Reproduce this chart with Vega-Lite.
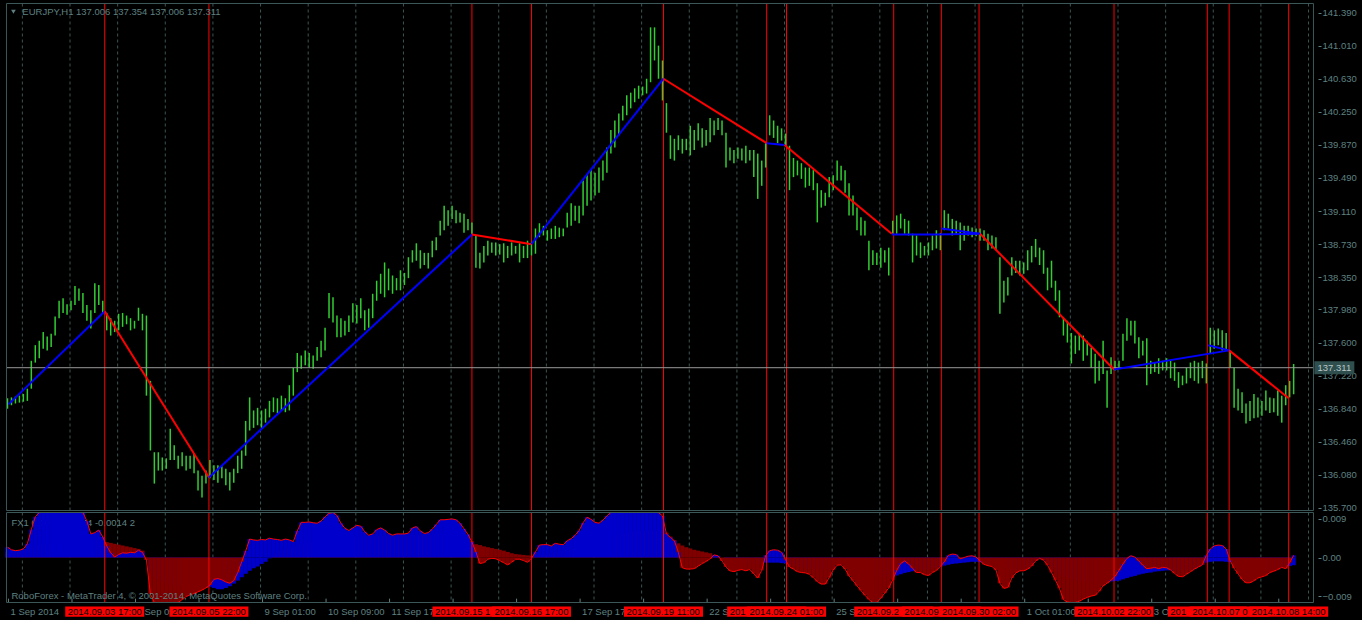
{
  "$schema": "https://vega.github.io/schema/vega-lite/v6.json",
  "background": "#000000",
  "autosize": {"type": "none"},
  "padding": {"left": 1, "top": 3, "right": 44, "bottom": 0},
  "width": 1317,
  "height": 617,
  "config": {
    "font": "Liberation Sans",
    "view": {"stroke": null},
    "axis": {"labelColor": "#5f8080", "tickColor": "#5f8080", "labelFontSize": 9.5, "labelFont": "Liberation Sans", "domain": false, "grid": false, "labelOverlap": false, "labelFlush": false}
  },
  "resolve": {"scale": {"y": "independent"}, "axis": {"y": "independent"}},
  "datasets": {
    "one": [{}],
    "bars": [
      {"t":0,"h":136.96,"l":136.84,"m":0.0024,"s":0.0012},{"t":2,"h":136.97,"l":136.88,"m":0.0018,"s":0.0012},{"t":4,"h":136.98,"l":136.90,"m":0.0016,"s":0.0012},{"t":6,"h":136.99,"l":136.91,"m":0.0017,"s":0.0013},
      {"t":8,"h":137.01,"l":136.92,"m":0.0020,"s":0.0015},{"t":10,"h":137.07,"l":136.93,"m":0.0032,"s":0.0020},{"t":12,"h":137.39,"l":137.07,"m":0.0065,"s":0.0025},{"t":14,"h":137.57,"l":137.37,"m":0.0095,"s":0.0028},
      {"t":16,"h":137.62,"l":137.42,"m":0.0112,"s":0.0029},{"t":18,"h":137.72,"l":137.53,"m":0.0120,"s":0.0030},{"t":20,"h":137.67,"l":137.51,"m":0.0125,"s":0.0032},{"t":22,"h":137.70,"l":137.55,"m":0.0125,"s":0.0033},
      {"t":24,"h":137.90,"l":137.68,"m":0.0125,"s":0.0035},{"t":26,"h":138.08,"l":137.88,"m":0.0125,"s":0.0036},{"t":28,"h":138.11,"l":137.94,"m":0.0125,"s":0.0037},{"t":30,"h":138.04,"l":137.92,"m":0.0125,"s":0.0038},
      {"t":32,"h":138.08,"l":137.97,"m":0.0125,"s":0.0039},{"t":34,"h":138.25,"l":138.03,"m":0.0125,"s":0.0040},{"t":36,"h":138.22,"l":138.08,"m":0.0125,"s":0.0041},{"t":38,"h":138.17,"l":137.94,"m":0.0115,"s":0.0042},
      {"t":40,"h":138.03,"l":137.85,"m":0.0085,"s":0.0043},{"t":42,"h":137.97,"l":137.76,"m":0.0055,"s":0.0044},{"t":44,"h":138.28,"l":137.94,"m":0.0058,"s":0.0043},{"t":46,"h":138.26,"l":138.03,"m":0.0064,"s":0.0042},
      {"t":48,"h":138.08,"l":137.94,"m":0.0048,"s":0.0040},{"t":50,"h":137.94,"l":137.74,"m":0.0027,"s":0.0036},{"t":52,"h":137.88,"l":137.68,"m":0.0011,"s":0.0034},{"t":54,"h":137.85,"l":137.72,"m":0.0001,"s":0.0032},
      {"t":56,"h":137.93,"l":137.74,"m":0.0007,"s":0.0030},{"t":58,"h":137.94,"l":137.78,"m":0.0011,"s":0.0028},{"t":60,"h":137.91,"l":137.81,"m":0.0010,"s":0.0026},{"t":62,"h":137.88,"l":137.74,"m":0.0012,"s":0.0024},
      {"t":64,"h":137.85,"l":137.76,"m":0.0011,"s":0.0022},{"t":66,"h":138.00,"l":137.85,"m":0.0017,"s":0.0020},{"t":68,"h":137.93,"l":137.74,"m":0.0012,"s":0.0016},{"t":70,"h":137.91,"l":136.99,"m":-0.0006,"s":0.0001},
      {"t":72,"h":137.16,"l":136.36,"m":-0.0085,"s":-0.0030},{"t":74,"h":136.34,"l":135.98,"m":-0.0108,"s":-0.0045},{"t":76,"h":136.34,"l":136.13,"m":-0.0110,"s":-0.0052},{"t":78,"h":136.28,"l":136.13,"m":-0.0110,"s":-0.0057},
      {"t":80,"h":136.27,"l":136.15,"m":-0.0110,"s":-0.0060},{"t":82,"h":136.61,"l":136.25,"m":-0.0110,"s":-0.0063},{"t":84,"h":136.42,"l":136.25,"m":-0.0110,"s":-0.0065},{"t":86,"h":136.30,"l":136.15,"m":-0.0110,"s":-0.0067},
      {"t":88,"h":136.34,"l":136.18,"m":-0.0098,"s":-0.0068},{"t":90,"h":136.30,"l":136.13,"m":-0.0091,"s":-0.0069},{"t":92,"h":136.30,"l":136.15,"m":-0.0087,"s":-0.0070},{"t":94,"h":136.32,"l":136.10,"m":-0.0084,"s":-0.0071},
      {"t":96,"h":136.13,"l":135.90,"m":-0.0080,"s":-0.0072},{"t":98,"h":136.07,"l":135.82,"m":-0.0076,"s":-0.0072},{"t":100,"h":136.13,"l":135.98,"m":-0.0071,"s":-0.0070},{"t":102,"h":136.25,"l":136.04,"m":-0.0064,"s":-0.0068},
      {"t":104,"h":136.19,"l":136.02,"m":-0.0051,"s":-0.0071},{"t":106,"h":136.19,"l":135.99,"m":-0.0049,"s":-0.0074},{"t":108,"h":136.18,"l":136.04,"m":-0.0052,"s":-0.0074},{"t":110,"h":136.15,"l":135.96,"m":-0.0057,"s":-0.0071},
      {"t":112,"h":136.11,"l":135.90,"m":-0.0060,"s":-0.0067},{"t":114,"h":136.15,"l":135.99,"m":-0.0054,"s":-0.0061},{"t":116,"h":136.30,"l":136.10,"m":-0.0035,"s":-0.0054},{"t":118,"h":136.36,"l":136.15,"m":-0.0010,"s":-0.0046},
      {"t":120,"h":136.70,"l":136.30,"m":0.0015,"s":-0.0038},{"t":122,"h":136.97,"l":136.59,"m":0.0043,"s":-0.0031},{"t":124,"h":136.82,"l":136.62,"m":0.0041,"s":-0.0025},{"t":126,"h":136.85,"l":136.65,"m":0.0040,"s":-0.0021},
      {"t":128,"h":136.82,"l":136.62,"m":0.0042,"s":-0.0015},{"t":130,"h":136.84,"l":136.68,"m":0.0041,"s":-0.0010},{"t":132,"h":136.93,"l":136.74,"m":0.0045,"s":-0.0002},{"t":134,"h":136.97,"l":136.80,"m":0.0043,"s":0.0005},
      {"t":136,"h":136.96,"l":136.79,"m":0.0042,"s":0.0010},{"t":138,"h":136.99,"l":136.82,"m":0.0040,"s":0.0015},{"t":140,"h":136.96,"l":136.80,"m":0.0043,"s":0.0019},{"t":142,"h":137.11,"l":136.82,"m":0.0041,"s":0.0022},
      {"t":144,"h":137.31,"l":136.99,"m":0.0037,"s":0.0025},{"t":146,"h":137.48,"l":137.26,"m":0.0062,"s":0.0028},{"t":148,"h":137.45,"l":137.30,"m":0.0082,"s":0.0030},{"t":150,"h":137.51,"l":137.34,"m":0.0082,"s":0.0032},
      {"t":152,"h":137.48,"l":137.31,"m":0.0083,"s":0.0034},{"t":154,"h":137.45,"l":137.30,"m":0.0081,"s":0.0036},{"t":156,"h":137.55,"l":137.39,"m":0.0080,"s":0.0038},{"t":158,"h":137.62,"l":137.43,"m":0.0085,"s":0.0040},
      {"t":160,"h":137.77,"l":137.51,"m":0.0095,"s":0.0042},{"t":162,"h":138.17,"l":137.88,"m":0.0103,"s":0.0043},{"t":164,"h":138.12,"l":137.83,"m":0.0106,"s":0.0044},{"t":166,"h":137.91,"l":137.66,"m":0.0098,"s":0.0045},
      {"t":168,"h":137.88,"l":137.66,"m":0.0080,"s":0.0046},{"t":170,"h":137.85,"l":137.68,"m":0.0068,"s":0.0047},{"t":172,"h":137.91,"l":137.72,"m":0.0063,"s":0.0047},{"t":174,"h":138.05,"l":137.83,"m":0.0069,"s":0.0048},
      {"t":176,"h":138.03,"l":137.82,"m":0.0075,"s":0.0048},{"t":178,"h":138.11,"l":137.88,"m":0.0073,"s":0.0049},{"t":180,"h":137.97,"l":137.74,"m":0.0060,"s":0.0049},{"t":182,"h":137.99,"l":137.77,"m":0.0052,"s":0.0049},
      {"t":184,"h":138.16,"l":137.88,"m":0.0055,"s":0.0050},{"t":186,"h":138.31,"l":138.08,"m":0.0065,"s":0.0050},{"t":188,"h":138.39,"l":138.16,"m":0.0069,"s":0.0050},{"t":190,"h":138.52,"l":138.12,"m":0.0064,"s":0.0050},
      {"t":192,"h":138.45,"l":138.20,"m":0.0056,"s":0.0050},{"t":194,"h":138.37,"l":138.16,"m":0.0052,"s":0.0050},{"t":196,"h":138.34,"l":138.20,"m":0.0055,"s":0.0051},{"t":198,"h":138.43,"l":138.20,"m":0.0055,"s":0.0051},
      {"t":200,"h":138.40,"l":138.26,"m":0.0055,"s":0.0051},{"t":202,"h":138.58,"l":138.34,"m":0.0057,"s":0.0052},{"t":204,"h":138.66,"l":138.52,"m":0.0069,"s":0.0052},{"t":206,"h":138.74,"l":138.54,"m":0.0072,"s":0.0053},
      {"t":208,"h":138.66,"l":138.45,"m":0.0062,"s":0.0053},{"t":210,"h":138.63,"l":138.49,"m":0.0056,"s":0.0053},{"t":212,"h":138.63,"l":138.45,"m":0.0058,"s":0.0054},{"t":214,"h":138.77,"l":138.58,"m":0.0066,"s":0.0054},
      {"t":216,"h":138.81,"l":138.66,"m":0.0077,"s":0.0055},{"t":218,"h":139.00,"l":138.83,"m":0.0088,"s":0.0055},{"t":220,"h":139.17,"l":138.89,"m":0.0088,"s":0.0056},{"t":222,"h":139.12,"l":138.94,"m":0.0089,"s":0.0056},
      {"t":224,"h":139.17,"l":139.02,"m":0.0090,"s":0.0056},{"t":226,"h":139.12,"l":138.97,"m":0.0088,"s":0.0055},{"t":228,"h":139.09,"l":138.98,"m":0.0080,"s":0.0053},{"t":230,"h":139.08,"l":138.86,"m":0.0067,"s":0.0050},
      {"t":232,"h":139.02,"l":138.89,"m":0.0054,"s":0.0045},{"t":234,"h":138.98,"l":138.85,"m":0.0036,"s":0.0038},{"t":236,"h":138.83,"l":138.46,"m":0.0013,"s":0.0031},{"t":238,"h":138.63,"l":138.45,"m":-0.0014,"s":0.0029},
      {"t":240,"h":138.71,"l":138.52,"m":-0.0012,"s":0.0026},{"t":242,"h":138.77,"l":138.60,"m":-0.0004,"s":0.0024},{"t":244,"h":138.75,"l":138.63,"m":-0.0002,"s":0.0022},{"t":246,"h":138.75,"l":138.60,"m":-0.0003,"s":0.0020},
      {"t":248,"h":138.73,"l":138.61,"m":-0.0007,"s":0.0018},{"t":250,"h":138.74,"l":138.52,"m":-0.0012,"s":0.0016},{"t":252,"h":138.71,"l":138.57,"m":-0.0017,"s":0.0013},{"t":254,"h":138.75,"l":138.60,"m":-0.0011,"s":0.0010},
      {"t":256,"h":138.71,"l":138.62,"m":-0.0004,"s":0.0008},{"t":258,"h":138.74,"l":138.52,"m":-0.0004,"s":0.0007},{"t":260,"h":138.71,"l":138.57,"m":-0.0007,"s":0.0006},{"t":262,"h":138.77,"l":138.57,"m":-0.0011,"s":0.0005},
      {"t":264,"h":138.75,"l":138.60,"m":-0.0002,"s":0.0004},{"t":266,"h":138.91,"l":138.62,"m":0.0013,"s":0.0004},{"t":268,"h":138.97,"l":138.81,"m":0.0029,"s":0.0005},{"t":270,"h":138.94,"l":138.83,"m":0.0030,"s":0.0006},
      {"t":272,"h":138.89,"l":138.77,"m":0.0030,"s":0.0008},{"t":274,"h":138.91,"l":138.79,"m":0.0027,"s":0.0010},{"t":276,"h":138.94,"l":138.79,"m":0.0033,"s":0.0012},{"t":278,"h":138.92,"l":138.81,"m":0.0031,"s":0.0014},
      {"t":280,"h":138.91,"l":138.82,"m":0.0030,"s":0.0016},{"t":282,"h":139.09,"l":138.92,"m":0.0039,"s":0.0018},{"t":284,"h":139.20,"l":138.94,"m":0.0044,"s":0.0020},{"t":286,"h":139.17,"l":139.00,"m":0.0052,"s":0.0022},
      {"t":288,"h":139.17,"l":138.97,"m":0.0063,"s":0.0025},{"t":290,"h":139.46,"l":139.06,"m":0.0081,"s":0.0028},{"t":292,"h":139.52,"l":139.17,"m":0.0094,"s":0.0031},{"t":294,"h":139.58,"l":139.23,"m":0.0089,"s":0.0034},
      {"t":296,"h":139.55,"l":139.29,"m":0.0082,"s":0.0037},{"t":298,"h":139.61,"l":139.32,"m":0.0080,"s":0.0040},{"t":300,"h":139.69,"l":139.46,"m":0.0087,"s":0.0043},{"t":302,"h":139.84,"l":139.55,"m":0.0097,"s":0.0046},
      {"t":304,"h":140.04,"l":139.77,"m":0.0110,"s":0.0049},{"t":306,"h":140.15,"l":139.84,"m":0.0125,"s":0.0052},{"t":308,"h":140.23,"l":139.98,"m":0.0125,"s":0.0054},{"t":310,"h":140.32,"l":140.15,"m":0.0125,"s":0.0056},
      {"t":312,"h":140.44,"l":140.21,"m":0.0125,"s":0.0058},{"t":314,"h":140.47,"l":140.29,"m":0.0125,"s":0.0060},{"t":316,"h":140.52,"l":140.36,"m":0.0125,"s":0.0061},{"t":318,"h":140.55,"l":140.40,"m":0.0125,"s":0.0062},
      {"t":320,"h":140.54,"l":140.44,"m":0.0125,"s":0.0062},{"t":322,"h":140.63,"l":140.46,"m":0.0125,"s":0.0063},{"t":324,"h":141.22,"l":140.59,"m":0.0125,"s":0.0063},{"t":326,"h":141.22,"l":140.84,"m":0.0125,"s":0.0063},
      {"t":328,"h":141.01,"l":140.63,"m":0.0125,"s":0.0063},{"t":330,"h":140.84,"l":140.38,"m":0.0097,"s":0.0062},{"t":332,"h":140.35,"l":140.01,"m":0.0055,"s":0.0058},{"t":334,"h":139.98,"l":139.71,"m":0.0047,"s":0.0049},
      {"t":336,"h":139.94,"l":139.69,"m":0.0039,"s":0.0041},{"t":338,"h":139.98,"l":139.81,"m":0.0012,"s":0.0033},{"t":340,"h":139.94,"l":139.77,"m":-0.0024,"s":0.0028},{"t":342,"h":139.94,"l":139.81,"m":-0.0027,"s":0.0024},
      {"t":344,"h":140.09,"l":139.75,"m":-0.0027,"s":0.0021},{"t":346,"h":140.04,"l":139.81,"m":-0.0026,"s":0.0018},{"t":348,"h":140.12,"l":139.92,"m":-0.0020,"s":0.0016},{"t":350,"h":140.06,"l":139.84,"m":-0.0014,"s":0.0014},
      {"t":352,"h":140.04,"l":139.86,"m":-0.0009,"s":0.0012},{"t":354,"h":140.18,"l":139.90,"m":-0.0003,"s":0.0010},{"t":356,"h":140.15,"l":139.98,"m":0.0006,"s":0.0006},{"t":358,"h":140.18,"l":140.04,"m":0.0004,"s":0.0003},
      {"t":360,"h":140.15,"l":139.98,"m":-0.0008,"s":0.0000},{"t":362,"h":140.01,"l":139.61,"m":-0.0022,"s":-0.0005},{"t":364,"h":139.84,"l":139.69,"m":-0.0031,"s":-0.0008},{"t":366,"h":139.81,"l":139.66,"m":-0.0033,"s":-0.0010},
      {"t":368,"h":139.84,"l":139.71,"m":-0.0030,"s":-0.0011},{"t":370,"h":139.83,"l":139.69,"m":-0.0028,"s":-0.0012},{"t":372,"h":139.86,"l":139.66,"m":-0.0031,"s":-0.0013},{"t":374,"h":139.81,"l":139.69,"m":-0.0028,"s":-0.0014},
      {"t":376,"h":139.81,"l":139.50,"m":-0.0038,"s":-0.0014},{"t":378,"h":139.77,"l":139.25,"m":-0.0048,"s":-0.0015},{"t":380,"h":139.69,"l":139.40,"m":-0.0030,"s":-0.0014},{"t":382,"h":139.89,"l":139.61,"m":0.0005,"s":-0.0012},
      {"t":384,"h":140.21,"l":139.98,"m":0.0016,"s":-0.0012},{"t":386,"h":140.15,"l":139.95,"m":0.0018,"s":-0.0012},{"t":388,"h":140.09,"l":139.89,"m":0.0017,"s":-0.0012},{"t":390,"h":140.06,"l":139.92,"m":0.0012,"s":-0.0013},
      {"t":392,"h":140.00,"l":139.86,"m":-0.0005,"s":-0.0014},{"t":394,"h":139.86,"l":139.35,"m":-0.0022,"s":-0.0016},{"t":396,"h":139.72,"l":139.50,"m":-0.0027,"s":-0.0018},{"t":398,"h":139.69,"l":139.52,"m":-0.0033,"s":-0.0020},
      {"t":400,"h":139.66,"l":139.48,"m":-0.0035,"s":-0.0022},{"t":402,"h":139.61,"l":139.38,"m":-0.0036,"s":-0.0024},{"t":404,"h":139.61,"l":139.40,"m":-0.0039,"s":-0.0026},{"t":406,"h":139.58,"l":139.35,"m":-0.0047,"s":-0.0027},
      {"t":408,"h":139.43,"l":138.98,"m":-0.0056,"s":-0.0028},{"t":410,"h":139.35,"l":139.15,"m":-0.0062,"s":-0.0029},{"t":412,"h":139.32,"l":139.17,"m":-0.0062,"s":-0.0029},{"t":414,"h":139.50,"l":139.27,"m":-0.0047,"s":-0.0028},
      {"t":416,"h":139.52,"l":139.35,"m":-0.0029,"s":-0.0026},{"t":418,"h":139.69,"l":139.46,"m":-0.0018,"s":-0.0017},{"t":420,"h":139.63,"l":139.46,"m":-0.0017,"s":-0.0016},{"t":422,"h":139.58,"l":139.32,"m":-0.0027,"s":-0.0020},
      {"t":424,"h":139.43,"l":139.06,"m":-0.0043,"s":-0.0025},{"t":426,"h":139.29,"l":139.06,"m":-0.0054,"s":-0.0030},{"t":428,"h":139.15,"l":138.89,"m":-0.0066,"s":-0.0034},{"t":430,"h":139.04,"l":138.83,"m":-0.0077,"s":-0.0037},
      {"t":432,"h":139.00,"l":138.83,"m":-0.0088,"s":-0.0040},{"t":434,"h":138.77,"l":138.43,"m":-0.0098,"s":-0.0042},{"t":436,"h":138.66,"l":138.49,"m":-0.0105,"s":-0.0044},{"t":438,"h":138.63,"l":138.49,"m":-0.0105,"s":-0.0045},
      {"t":440,"h":138.69,"l":138.46,"m":-0.0095,"s":-0.0046},{"t":442,"h":138.66,"l":138.52,"m":-0.0083,"s":-0.0046},{"t":444,"h":138.69,"l":138.37,"m":-0.0071,"s":-0.0046},{"t":446,"h":139.00,"l":138.85,"m":-0.0052,"s":-0.0045},
      {"t":448,"h":139.06,"l":138.85,"m":-0.0030,"s":-0.0042},{"t":450,"h":139.08,"l":138.91,"m":-0.0014,"s":-0.0039},{"t":452,"h":139.02,"l":138.85,"m":-0.0008,"s":-0.0036},{"t":454,"h":139.00,"l":138.83,"m":-0.0015,"s":-0.0034},
      {"t":456,"h":138.85,"l":138.52,"m":-0.0025,"s":-0.0032},{"t":458,"h":138.83,"l":138.60,"m":-0.0035,"s":-0.0030},{"t":460,"h":138.75,"l":138.57,"m":-0.0035,"s":-0.0029},{"t":462,"h":138.71,"l":138.60,"m":-0.0040,"s":-0.0028},
      {"t":464,"h":138.75,"l":138.60,"m":-0.0042,"s":-0.0027},{"t":466,"h":138.83,"l":138.66,"m":-0.0035,"s":-0.0025},{"t":468,"h":138.89,"l":138.68,"m":-0.0030,"s":-0.0023},{"t":470,"h":138.86,"l":138.66,"m":-0.0021,"s":-0.0021},
      {"t":472,"h":139.12,"l":138.89,"m":-0.0010,"s":-0.0019},{"t":474,"h":139.08,"l":138.91,"m":0.0005,"s":-0.0017},{"t":476,"h":139.02,"l":138.83,"m":0.0008,"s":-0.0015},{"t":478,"h":139.00,"l":138.85,"m":0.0007,"s":-0.0014},
      {"t":480,"h":138.98,"l":138.66,"m":-0.0003,"s":-0.0013},{"t":482,"h":138.94,"l":138.77,"m":0.0000,"s":-0.0012},{"t":484,"h":138.94,"l":138.83,"m":0.0003,"s":-0.0011},{"t":486,"h":138.92,"l":138.81,"m":0.0004,"s":-0.0010},
      {"t":488,"h":138.91,"l":138.82,"m":0.0001,"s":-0.0010},{"t":490,"h":138.91,"l":138.77,"m":-0.0008,"s":-0.0011},{"t":492,"h":138.89,"l":138.77,"m":-0.0016,"s":-0.0013},{"t":494,"h":138.85,"l":138.66,"m":-0.0019,"s":-0.0015},
      {"t":496,"h":138.83,"l":138.68,"m":-0.0021,"s":-0.0017},{"t":498,"h":138.81,"l":138.66,"m":-0.0029,"s":-0.0019},{"t":500,"h":138.58,"l":137.93,"m":-0.0060,"s":-0.0022},{"t":502,"h":138.31,"l":138.06,"m":-0.0072,"s":-0.0025},
      {"t":504,"h":138.35,"l":138.14,"m":-0.0070,"s":-0.0027},{"t":506,"h":138.58,"l":138.37,"m":-0.0048,"s":-0.0028},{"t":508,"h":138.54,"l":138.40,"m":-0.0036,"s":-0.0029},{"t":510,"h":138.54,"l":138.37,"m":-0.0031,"s":-0.0029},
      {"t":512,"h":138.52,"l":138.39,"m":-0.0031,"s":-0.0028},{"t":514,"h":138.66,"l":138.43,"m":-0.0027,"s":-0.0026},{"t":516,"h":138.71,"l":138.52,"m":-0.0020,"s":-0.0019},{"t":518,"h":138.79,"l":138.58,"m":-0.0008,"s":-0.0007},
      {"t":520,"h":138.69,"l":138.49,"m":-0.0002,"s":-0.0002},{"t":522,"h":138.66,"l":138.39,"m":-0.0006,"s":-0.0005},{"t":524,"h":138.46,"l":138.20,"m":-0.0018,"s":-0.0012},{"t":526,"h":138.54,"l":138.23,"m":-0.0035,"s":-0.0020},
      {"t":528,"h":138.31,"l":138.08,"m":-0.0053,"s":-0.0028},{"t":530,"h":138.20,"l":137.89,"m":-0.0072,"s":-0.0035},{"t":532,"h":137.89,"l":137.68,"m":-0.0098,"s":-0.0041},{"t":534,"h":137.85,"l":137.60,"m":-0.0104,"s":-0.0046},
      {"t":536,"h":137.71,"l":137.36,"m":-0.0106,"s":-0.0050},{"t":538,"h":137.68,"l":137.47,"m":-0.0105,"s":-0.0053},{"t":540,"h":137.70,"l":137.51,"m":-0.0102,"s":-0.0055},{"t":542,"h":137.68,"l":137.39,"m":-0.0097,"s":-0.0056},
      {"t":544,"h":137.62,"l":137.45,"m":-0.0093,"s":-0.0057},{"t":546,"h":137.54,"l":137.31,"m":-0.0090,"s":-0.0057},{"t":548,"h":137.47,"l":137.13,"m":-0.0088,"s":-0.0057},{"t":550,"h":137.39,"l":137.16,"m":-0.0079,"s":-0.0057},
      {"t":552,"h":137.62,"l":137.24,"m":-0.0066,"s":-0.0057},{"t":554,"h":137.28,"l":136.85,"m":-0.0060,"s":-0.0057},{"t":556,"h":137.43,"l":137.24,"m":-0.0053,"s":-0.0056},{"t":558,"h":137.39,"l":137.28,"m":-0.0044,"s":-0.0055},
      {"t":560,"h":137.39,"l":137.30,"m":-0.0030,"s":-0.0054},{"t":562,"h":137.70,"l":137.39,"m":-0.0015,"s":-0.0051},{"t":564,"h":137.88,"l":137.62,"m":-0.0002,"s":-0.0048},{"t":566,"h":137.85,"l":137.68,"m":0.0004,"s":-0.0045},
      {"t":568,"h":137.85,"l":137.59,"m":0.0001,"s":-0.0043},{"t":570,"h":137.66,"l":137.42,"m":-0.0008,"s":-0.0040},{"t":572,"h":137.62,"l":137.45,"m":-0.0018,"s":-0.0038},{"t":574,"h":137.65,"l":137.11,"m":-0.0026,"s":-0.0036},
      {"t":576,"h":137.39,"l":137.24,"m":-0.0025,"s":-0.0035},{"t":578,"h":137.37,"l":137.26,"m":-0.0023,"s":-0.0033},{"t":580,"h":137.42,"l":137.24,"m":-0.0026,"s":-0.0032},{"t":582,"h":137.39,"l":137.28,"m":-0.0023,"s":-0.0031},
      {"t":584,"h":137.42,"l":137.28,"m":-0.0024,"s":-0.0030},{"t":586,"h":137.39,"l":137.19,"m":-0.0029,"s":-0.0030},{"t":588,"h":137.37,"l":137.16,"m":-0.0037,"s":-0.0030},{"t":590,"h":137.26,"l":137.08,"m":-0.0044,"s":-0.0030},
      {"t":592,"h":137.22,"l":137.11,"m":-0.0045,"s":-0.0030},{"t":594,"h":137.31,"l":137.13,"m":-0.0039,"s":-0.0030},{"t":596,"h":137.37,"l":137.19,"m":-0.0033,"s":-0.0029},{"t":598,"h":137.39,"l":137.16,"m":-0.0027,"s":-0.0027},
      {"t":600,"h":137.37,"l":137.13,"m":-0.0022,"s":-0.0022},{"t":602,"h":137.39,"l":137.19,"m":-0.0017,"s":-0.0017},{"t":604,"h":137.36,"l":137.13,"m":0.0005,"s":-0.0012},{"t":606,"h":137.77,"l":137.47,"m":0.0020,"s":-0.0010},
      {"t":608,"h":137.74,"l":137.53,"m":0.0027,"s":-0.0009},{"t":610,"h":137.76,"l":137.57,"m":0.0029,"s":-0.0009},{"t":612,"h":137.74,"l":137.51,"m":0.0028,"s":-0.0009},{"t":614,"h":137.71,"l":137.51,"m":0.0020,"s":-0.0010},
      {"t":616,"h":137.51,"l":137.31,"m":-0.0007,"s":-0.0011},{"t":618,"h":137.31,"l":136.85,"m":-0.0025,"s":-0.0014},{"t":620,"h":137.07,"l":136.82,"m":-0.0038,"s":-0.0018},{"t":622,"h":137.03,"l":136.79,"m":-0.0051,"s":-0.0022},
      {"t":624,"h":136.90,"l":136.67,"m":-0.0059,"s":-0.0025},{"t":626,"h":136.93,"l":136.70,"m":-0.0059,"s":-0.0027},{"t":628,"h":137.01,"l":136.73,"m":-0.0054,"s":-0.0029},{"t":630,"h":136.97,"l":136.74,"m":-0.0048,"s":-0.0030},
      {"t":632,"h":136.93,"l":136.76,"m":-0.0045,"s":-0.0030},{"t":634,"h":137.05,"l":136.82,"m":-0.0042,"s":-0.0030},{"t":636,"h":136.97,"l":136.79,"m":-0.0035,"s":-0.0030},{"t":638,"h":136.96,"l":136.80,"m":-0.0032,"s":-0.0030},
      {"t":640,"h":137.05,"l":136.76,"m":-0.0028,"s":-0.0027},{"t":642,"h":136.99,"l":136.68,"m":-0.0023,"s":-0.0023},{"t":644,"h":137.11,"l":136.88,"m":-0.0026,"s":-0.0022},{"t":646,"h":137.16,"l":136.97,"m":-0.0012,"s":-0.0020},
      {"t":648,"h":137.354,"l":137.006,"m":0.0005,"s":-0.0018}
    ],
    "zz": [
      {"seg":1,"dir":"up","t":0.5,"p":136.89},{"seg":1,"dir":"up","t":49,"p":137.96},
      {"seg":2,"dir":"down","t":49,"p":137.96},{"seg":2,"dir":"down","t":101.5,"p":136.05},
      {"seg":3,"dir":"up","t":101.5,"p":136.05},{"seg":3,"dir":"up","t":234,"p":138.84},
      {"seg":4,"dir":"down","t":234,"p":138.84},{"seg":4,"dir":"down","t":264,"p":138.73},
      {"seg":5,"dir":"up","t":264,"p":138.73},{"seg":5,"dir":"up","t":330.5,"p":140.63},
      {"seg":6,"dir":"down","t":330.5,"p":140.63},{"seg":6,"dir":"down","t":382.5,"p":139.89},
      {"seg":7,"dir":"up","t":382.5,"p":139.89},{"seg":7,"dir":"up","t":391.5,"p":139.87},
      {"seg":8,"dir":"down","t":391.5,"p":139.87},{"seg":8,"dir":"down","t":445.5,"p":138.85},
      {"seg":9,"dir":"up","t":445.5,"p":138.84},{"seg":9,"dir":"up","t":467.5,"p":138.84},{"seg":9,"dir":"up","t":490,"p":138.85},
      {"seg":10,"dir":"up","t":470.5,"p":138.91},{"seg":10,"dir":"up","t":490,"p":138.85},
      {"seg":11,"dir":"down","t":490,"p":138.85},{"seg":11,"dir":"down","t":557.5,"p":137.29},
      {"seg":12,"dir":"up","t":557.5,"p":137.29},{"seg":12,"dir":"up","t":615.5,"p":137.51},
      {"seg":13,"dir":"up","t":605,"p":137.57},{"seg":13,"dir":"up","t":615.5,"p":137.51},
      {"seg":14,"dir":"down","t":615.5,"p":137.51},{"seg":14,"dir":"down","t":645.5,"p":136.96}
    ],
    "vl": [
      {"t":49},{"t":101.5},{"t":234},{"t":264},{"t":330.5},{"t":382.5},{"t":392.5},
      {"t":446.5},{"t":470.5},{"t":489.5},{"t":557.5},{"t":604.5},{"t":615.5},{"t":645.5}
    ],
    "grid": [
      {"t":7.5},{"t":31.5},{"t":55.5},{"t":79.5},{"t":103.5},{"t":127.5},{"t":151.5},
      {"t":175.5},{"t":199.5},{"t":223.5},{"t":247.5},{"t":271.5},{"t":295.5},{"t":319.5},
      {"t":343.5},{"t":367.5},{"t":391.5},{"t":415.5},{"t":439.5},{"t":463.5},{"t":487.5},
      {"t":511.5},{"t":535.5},{"t":559.5},{"t":583.5},{"t":607.5},{"t":631.5},{"t":655.5}
    ],
    "lbl": [
      {"t":49,"txt":"2014.09.03 17:00"},{"t":101.5,"txt":"2014.09.05 22:00"},{"t":234,"txt":"2014.09.15 1"},
      {"t":264,"txt":"2014.09.16 17:00"},{"t":330.5,"txt":"2014.09.19 11:00"},{"t":382.5,"txt":"201"},
      {"t":392.5,"txt":"2014.09.24 01:00"},{"t":446.5,"txt":"2014.09.2"},{"t":470.5,"txt":"2014.09"},
      {"t":489.5,"txt":"2014.09.30 02:00"},{"t":557.5,"txt":"2014.10.02 22:00"},{"t":604.5,"txt":"201"},
      {"t":615.5,"txt":"2014.10.07 0"},{"t":645.5,"txt":"2014.10.08 14:00"}
    ],
    "tk": [
      {"t":0.5},{"t":32.5},{"t":64.5},{"t":96.5},{"t":128.5},{"t":160.5},{"t":192.5},
      {"t":224.5},{"t":256.5},{"t":288.5},{"t":320.5},{"t":352.5},{"t":384.5},{"t":416.5},
      {"t":448.5},{"t":480.5},{"t":512.5},{"t":544.5},{"t":576.5},{"t":608.5},{"t":640.5}
    ],
    "tl": [
      {"t":0.5,"txt":"1 Sep 2014"},{"t":128.5,"txt":"9 Sep 01:00"},
      {"t":160.5,"txt":"10 Sep 09:00"},{"t":192.5,"txt":"11 Sep 17"},{"t":288.5,"txt":"17 Sep 17:"},
      {"t":352.5,"txt":"22 S"},{"t":416.5,"txt":"25 S"},{"t":512.5,"txt":"1 Oct 01:00"},
      {"t":576.5,"txt":"3 O"}
    ],
    "tlc": [
      {"t":64.5,"txt":"Sep 09"}
    ]
  },
  "layer": [
    {
      "data": {"name": "grid"},
      "mark": {"type": "rule", "color": "#3e5454", "strokeDash": [3, 3], "strokeWidth": 1},
      "encoding": {
        "x": {"field": "t", "type": "quantitative", "scale": {"domain": [-0.75, 657.75], "nice": false, "zero": false}, "axis": null},
        "y": {"datum": 141.494, "type": "quantitative", "scale": {"domain": [135.671, 141.494], "range": [507.5, 0.5], "nice": false, "zero": false}, "axis": null},
        "y2": {"datum": 135.671}
      }
    },
    {
      "data": {"name": "grid"},
      "mark": {"type": "rule", "color": "#3e5454", "strokeDash": [3, 3], "strokeWidth": 1},
      "encoding": {
        "x": {"field": "t", "type": "quantitative"},
        "y": {"datum": 0.0105, "type": "quantitative", "scale": {"domain": [-0.0105, 0.0105], "range": [599.5, 509.5], "nice": false, "zero": false}, "axis": null},
        "y2": {"datum": -0.0105}
      }
    },
    {
      "data": {"name": "vl"},
      "mark": {"type": "rule", "color": "#ff0000", "strokeWidth": 1},
      "encoding": {
        "x": {"field": "t", "type": "quantitative"},
        "y": {"datum": 141.494, "type": "quantitative", "scale": {"domain": [135.671, 141.494], "range": [507.5, 0.5], "nice": false, "zero": false}, "axis": null},
        "y2": {"datum": 135.671}
      }
    },
    {
      "data": {"name": "bars"},
      "mark": {"type": "rule", "color": "#32cd32", "strokeWidth": 1.5},
      "encoding": {
        "x": {"field": "t", "type": "quantitative"},
        "y": {
          "field": "l", "type": "quantitative",
          "scale": {"domain": [135.671, 141.494], "range": [507.5, 0.5], "nice": false, "zero": false},
          "axis": {
            "orient": "right",
            "values": [141.39, 141.01, 140.63, 140.25, 139.87, 139.49, 139.11, 138.73, 138.35, 137.98, 137.6, 137.22, 136.84, 136.46, 136.08, 135.7],
            "format": ".3f", "tickSize": 3, "labelPadding": 1, "labelOverlap": false, "title": null
          }
        },
        "y2": {"field": "h"}
      }
    },
    {
      "data": {"name": "one"},
      "mark": {"type": "rule", "color": "#9a9a9a", "strokeWidth": 1},
      "encoding": {
        "x": {"datum": -0.75, "type": "quantitative"},
        "x2": {"datum": 657.75},
        "y": {"datum": 137.311, "type": "quantitative", "scale": {"domain": [135.671, 141.494], "range": [507.5, 0.5], "nice": false, "zero": false}, "axis": null}
      }
    },
    {
      "data": {"name": "zz"},
      "mark": {"type": "line", "strokeWidth": 2},
      "encoding": {
        "x": {"field": "t", "type": "quantitative"},
        "y": {"field": "p", "type": "quantitative", "scale": {"domain": [135.671, 141.494], "range": [507.5, 0.5], "nice": false, "zero": false}, "axis": null},
        "detail": {"field": "seg", "type": "nominal"},
        "color": {"field": "dir", "type": "nominal", "scale": {"domain": ["up", "down"], "range": ["#0000ff", "#ff0000"]}, "legend": null}
      }
    },
    {
      "data": {"name": "one"},
      "mark": {"type": "point", "shape": "triangle-down", "filled": true, "size": 22, "color": "#5f8080", "opacity": 1},
      "encoding": {
        "x": {"datum": 3, "type": "quantitative"},
        "y": {"datum": 141.40, "type": "quantitative", "scale": {"domain": [135.671, 141.494], "range": [507.5, 0.5], "nice": false, "zero": false}, "axis": null}
      }
    },
    {
      "data": {"name": "one"},
      "mark": {"type": "text", "align": "left", "baseline": "middle", "color": "#5f8080", "fontSize": 9.5},
      "encoding": {
        "x": {"datum": 7.5, "type": "quantitative"},
        "y": {"datum": 141.40, "type": "quantitative", "scale": {"domain": [135.671, 141.494], "range": [507.5, 0.5], "nice": false, "zero": false}, "axis": null},
        "text": {"value": "EURJPY,H1  137.006 137.354 137.006 137.311"}
      }
    },
    {
      "data": {"name": "one"},
      "mark": {"type": "rect", "filled": false, "color": "#3b5757", "strokeWidth": 1},
      "encoding": {
        "x": {"datum": -0.5, "type": "quantitative"},
        "x2": {"datum": 658},
        "y": {"datum": 141.494, "type": "quantitative", "scale": {"domain": [135.671, 141.494], "range": [507.5, 0.5], "nice": false, "zero": false}, "axis": null},
        "y2": {"datum": 135.671}
      }
    },
    {
      "data": {"name": "one"},
      "mark": {"type": "tick", "orient": "horizontal", "size": 40, "thickness": 13, "color": "#2f4f4f", "opacity": 1, "clip": false},
      "encoding": {
        "x": {"datum": 668.5, "type": "quantitative"},
        "y": {"datum": 137.311, "type": "quantitative", "scale": {"domain": [135.671, 141.494], "range": [507.5, 0.5], "nice": false, "zero": false}, "axis": null}
      }
    },
    {
      "data": {"name": "one"},
      "mark": {"type": "text", "align": "center", "baseline": "middle", "color": "#b8c6c6", "fontSize": 9.5, "clip": false},
      "encoding": {
        "x": {"datum": 668.5, "type": "quantitative"},
        "y": {"datum": 137.311, "type": "quantitative", "scale": {"domain": [135.671, 141.494], "range": [507.5, 0.5], "nice": false, "zero": false}, "axis": null},
        "text": {"value": "137.311"}
      }
    },
    {
      "data": {"name": "one"},
      "mark": {"type": "text", "align": "left", "baseline": "middle", "color": "#5f8080", "fontSize": 9.5},
      "encoding": {
        "x": {"datum": 2, "type": "quantitative"},
        "y": {"datum": 0.0081, "type": "quantitative", "scale": {"domain": [-0.0105, 0.0105], "range": [599.5, 509.5], "nice": false, "zero": false}, "axis": null},
        "text": {"value": "FX1 0.0052 0.0034 -0.0014  2"}
      }
    },
    {
      "data": {"name": "bars"},
      "mark": {"type": "bar", "orient": "vertical", "size": 4.2, "opacity": 1, "clip": true},
      "encoding": {
        "x": {"field": "t", "type": "quantitative"},
        "y": {
          "field": "s", "type": "quantitative",
          "scale": {"domain": [-0.0105, 0.0105], "range": [599.5, 509.5], "nice": false, "zero": false, "clamp": true},
          "axis": {
            "orient": "right", "values": [0.009, 0, -0.009],
            "labelExpr": "datum.value == 0 ? '0.00' : format(datum.value, '.3f')",
            "tickSize": 3, "labelPadding": 1, "labelOverlap": false, "title": null
          }
        },
        "y2": {"datum": 0},
        "color": {"condition": {"test": "datum.s > 0", "value": "#800000"}, "value": "#0000cd"}
      }
    },
    {
      "data": {"name": "bars"},
      "mark": {"type": "bar", "orient": "vertical", "size": 4.2, "opacity": 1, "clip": true},
      "encoding": {
        "x": {"field": "t", "type": "quantitative"},
        "y": {"field": "m", "type": "quantitative", "scale": {"domain": [-0.0105, 0.0105], "range": [599.5, 509.5], "nice": false, "zero": false, "clamp": true}, "axis": null},
        "y2": {"datum": 0},
        "color": {"condition": {"test": "datum.m > 0", "value": "#0000cd"}, "value": "#800000"}
      }
    },
    {
      "data": {"name": "bars"},
      "mark": {"type": "line", "color": "#ff0000", "strokeWidth": 1, "clip": true},
      "encoding": {
        "x": {"field": "t", "type": "quantitative"},
        "y": {"field": "m", "type": "quantitative", "scale": {"domain": [-0.0105, 0.0105], "range": [599.5, 509.5], "nice": false, "zero": false, "clamp": true}, "axis": null}
      }
    },
    {
      "data": {"name": "vl"},
      "mark": {"type": "rule", "color": "#ff0000", "strokeWidth": 1},
      "encoding": {
        "x": {"field": "t", "type": "quantitative"},
        "y": {"datum": 0.0105, "type": "quantitative", "scale": {"domain": [-0.0105, 0.0105], "range": [599.5, 509.5], "nice": false, "zero": false}, "axis": null},
        "y2": {"datum": -0.0105}
      }
    },
    {
      "data": {"name": "tk"},
      "mark": {"type": "rule", "color": "#5f8080", "strokeWidth": 1},
      "encoding": {
        "x": {"field": "t", "type": "quantitative"},
        "y": {"datum": -0.0105, "type": "quantitative", "scale": {"domain": [-0.0105, 0.0105], "range": [599.5, 509.5], "nice": false, "zero": false}, "axis": null},
        "y2": {"datum": -0.0096}
      }
    },
    {
      "data": {"name": "one"},
      "mark": {"type": "text", "align": "left", "baseline": "middle", "color": "#5f8080", "fontSize": 9.5},
      "encoding": {
        "x": {"datum": 2, "type": "quantitative"},
        "y": {"datum": -0.0089, "type": "quantitative", "scale": {"domain": [-0.0105, 0.0105], "range": [599.5, 509.5], "nice": false, "zero": false}, "axis": null},
        "text": {"value": "RoboForex - MetaTrader 4, © 2001-2014, MetaQuotes Software Corp."}
      }
    },
    {
      "data": {"name": "one"},
      "mark": {"type": "rect", "filled": false, "color": "#3b5757", "strokeWidth": 1},
      "encoding": {
        "x": {"datum": -0.5, "type": "quantitative"},
        "x2": {"datum": 658},
        "y": {"datum": 0.0105, "type": "quantitative", "scale": {"domain": [-0.0105, 0.0105], "range": [599.5, 509.5], "nice": false, "zero": false}, "axis": null},
        "y2": {"datum": -0.0105}
      }
    },
    {
      "data": {"name": "tl"},
      "mark": {"type": "text", "align": "left", "baseline": "middle", "dx": 2, "color": "#5f8080", "fontSize": 9.5},
      "encoding": {
        "x": {"field": "t", "type": "quantitative"},
        "y": {"datum": 0.53, "type": "quantitative", "scale": {"domain": [0, 1], "range": [617, 601], "nice": false, "zero": false}, "axis": null},
        "text": {"field": "txt"}
      }
    },
    {
      "data": {"name": "tlc"},
      "mark": {"type": "text", "align": "left", "baseline": "middle", "dx": 9, "color": "#5f8080", "fontSize": 9.5},
      "encoding": {
        "x": {"field": "t", "type": "quantitative"},
        "y": {"datum": 0.53, "type": "quantitative", "scale": {"domain": [0, 1], "range": [617, 601], "nice": false, "zero": false}, "axis": null},
        "text": {"field": "txt"}
      }
    },
    {
      "data": {"name": "lbl"},
      "mark": {"type": "bar", "orient": "vertical", "size": 79, "color": "#ff0000", "opacity": 1},
      "encoding": {
        "x": {"field": "t", "type": "quantitative"},
        "y": {"datum": 0.85, "type": "quantitative", "scale": {"domain": [0, 1], "range": [617, 601], "nice": false, "zero": false}, "axis": null},
        "y2": {"datum": 0.2}
      }
    },
    {
      "data": {"name": "lbl"},
      "mark": {"type": "text", "align": "left", "baseline": "middle", "dx": -37, "color": "#000000", "fontSize": 9.5},
      "encoding": {
        "x": {"field": "t", "type": "quantitative"},
        "y": {"datum": 0.53, "type": "quantitative", "scale": {"domain": [0, 1], "range": [617, 601], "nice": false, "zero": false}, "axis": null},
        "text": {"field": "txt"}
      }
    }
  ]
}
